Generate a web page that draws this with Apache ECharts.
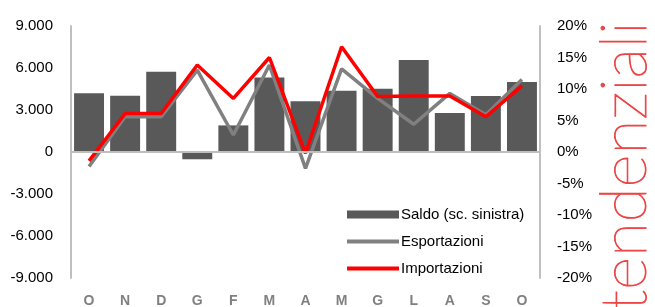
<!DOCTYPE html>
<html>
<head>
<meta charset="utf-8">
<script src="https://cdn.jsdelivr.net/npm/echarts@6/dist/echarts.min.js"></script>
<style>
html,body{margin:0;padding:0;background:#fff;}
#chart{width:655px;height:307px;}
</style>
</head>
<body>
<div id="chart"></div>
<script>
// mesi (da ottobre a ottobre)
var mesi = ['O','N','D','G','F','M','A','M','G','L','A','S','O'];
// saldo, milioni (scala sinistra)
var saldo = [4200, 4020, 5740, -520, 1900, 5330, 3620, 4380, 4520, 6570, 2790, 4000, 5000];
// variazioni tendenziali % (scala destra)
var esportazioni = [-2.3, 5.6, 5.6, 13.0, 2.7, 13.8, -2.6, 13.2, 8.5, 4.4, 9.3, 5.9, 11.5];
var importazioni = [-1.4, 6.1, 6.1, 13.8, 8.5, 15.0, -0.2, 16.7, 8.8, 8.9, 8.9, 5.6, 10.5];

var myChart = echarts.init(document.getElementById('chart'));

function fmtMigliaia(v){
	var s = Math.abs(v).toString();
	s = s.replace(/\B(?=(\d{3})+(?!\d))/g, '.');
	return (v < 0 ? '-' : '') + s;
}

var option = {
	animation: false,
	backgroundColor: '#fff',
	textStyle: { fontFamily: 'Liberation Sans, Arial, sans-serif' },
	grid: { left: 71, right: 115, top: 26, bottom: 29, outerBoundsMode: 'none', containLabel: false },
	legend: {
		orient: 'vertical',
		left: 340, top: 202,
		itemWidth: 52, itemHeight: 8, itemGap: 12,
		textStyle: { fontSize: 15, color: '#000', padding: [0, 0, 0, -3] },
		data: [
			{ name: 'Saldo (sc. sinistra)', icon: 'rect' },
			{ name: 'Esportazioni', itemStyle: { opacity: 0 }, lineStyle: { width: 4 } },
			{ name: 'Importazioni', itemStyle: { opacity: 0 }, lineStyle: { width: 4 } }
		]
	},
	xAxis: {
		type: 'category',
		position: 'bottom',
		data: mesi,
		axisLine: { show: false, onZero: false },
		axisTick: { show: false },
		axisLabel: { color: '#808080', fontWeight: 'bold', fontSize: 14, margin: 16 }
	},
	yAxis: [
		{
			type: 'value', min: -9000, max: 9000, interval: 3000,
			axisLine: { show: true, lineStyle: { color: '#bfbfbf', width: 2 } },
			axisTick: { show: false },
			splitLine: { show: false },
			axisLabel: { color: '#000', fontSize: 15, margin: 18, formatter: fmtMigliaia }
		},
		{
			type: 'value', min: -20, max: 20, interval: 5,
			axisLine: { show: true, lineStyle: { color: '#bfbfbf', width: 2 } },
			axisTick: { show: false },
			splitLine: { show: false },
			axisLabel: { color: '#000', fontSize: 15, margin: 17, formatter: '{value}%' }
		}
	],
	series: [
		{
			name: 'Saldo (sc. sinistra)', type: 'bar', data: saldo,
			barCategoryGap: '17%',
			itemStyle: { color: '#595959' },
			markLine: {
				silent: true, symbol: 'none', label: { show: false },
				lineStyle: { color: '#bfbfbf', width: 2, type: 'solid' },
				data: [{ yAxis: 0 }]
			}
		},
		{
			name: 'Esportazioni', type: 'line', yAxisIndex: 1, data: esportazioni,
			symbol: 'none', lineStyle: { color: '#808080', width: 3.5 }, itemStyle: { color: '#808080' }
		},
		{
			name: 'Importazioni', type: 'line', yAxisIndex: 1, data: importazioni,
			symbol: 'none', lineStyle: { color: '#ff0000', width: 3.5 }, itemStyle: { color: '#ff0000' }
		}
	],
	graphic: [
		{
			type: 'text', x: 657, y: 311, rotation: Math.PI / 2, silent: true,
			style: {
				text: 'tendenziali', fill: '#ec4646',
				stroke: '#ec4646', lineWidth: 1,
				font: '200 64px Lato, sans-serif',
				align: 'left', verticalAlign: 'bottom'
			}
		}
	]
};

myChart.setOption(option);
</script>
</body>
</html>
